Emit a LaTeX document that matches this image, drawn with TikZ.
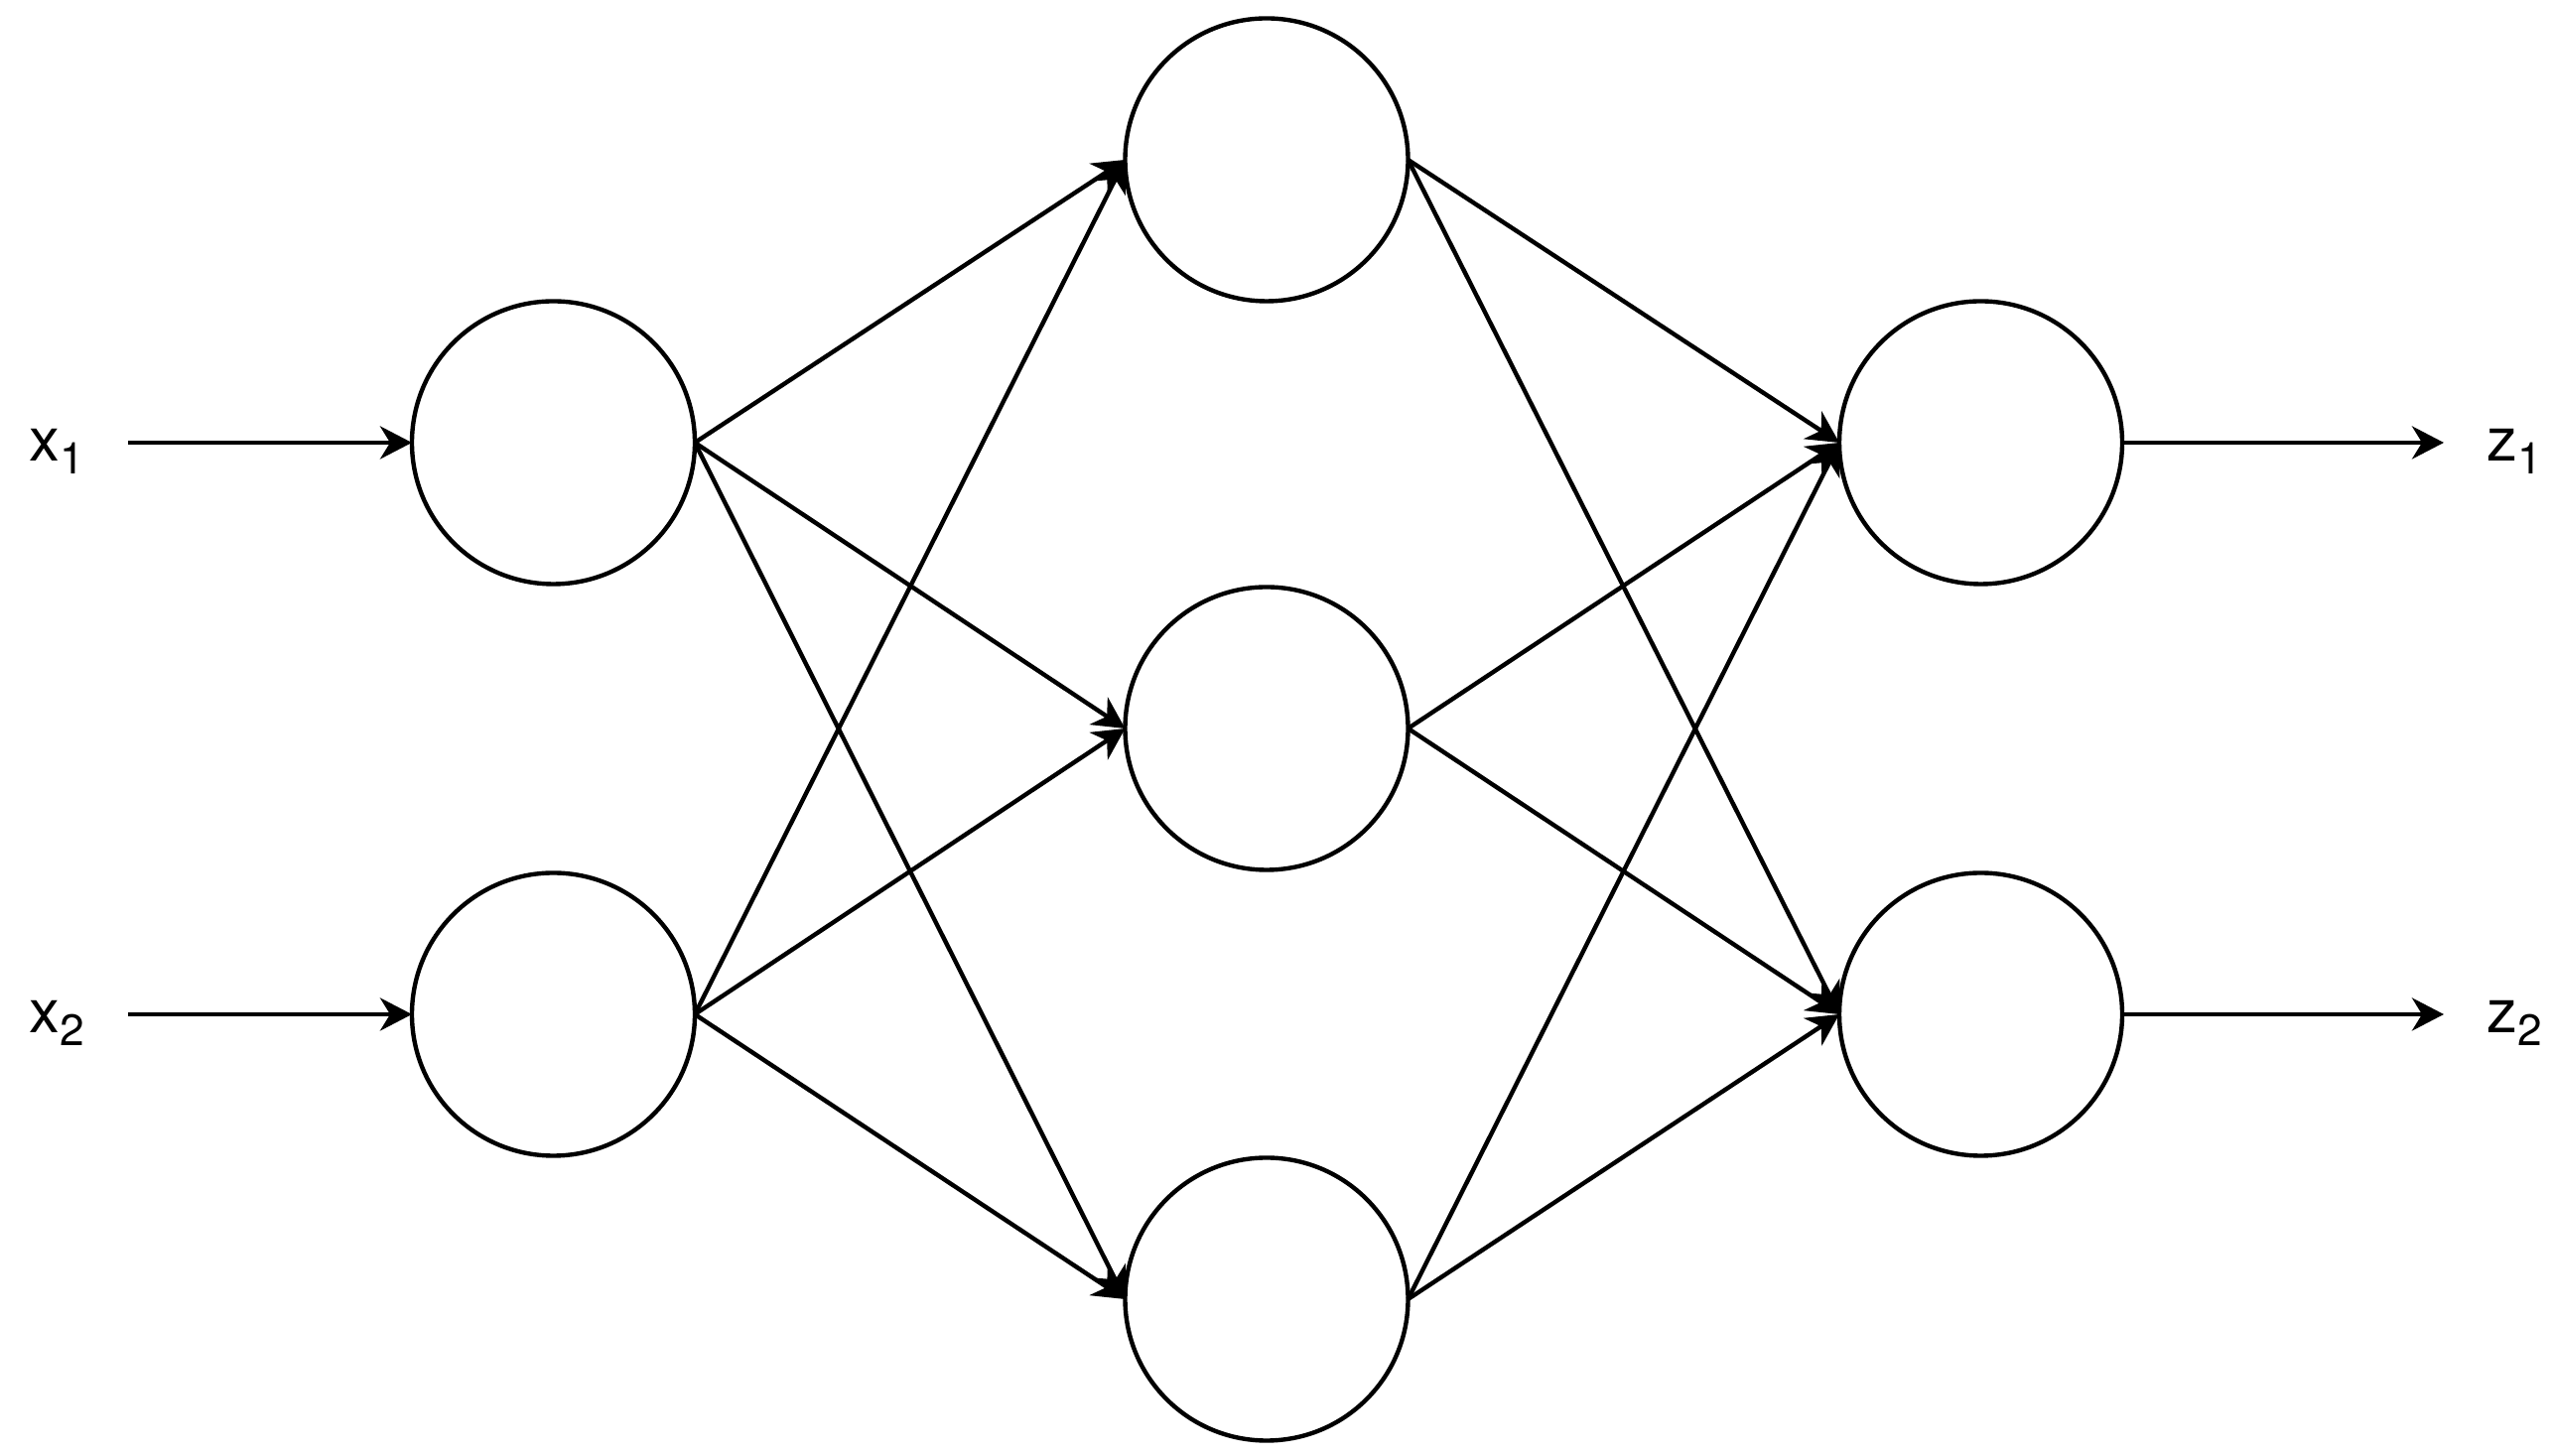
\documentclass[tikz,border=0pt]{standalone}
\usepackage{fontspec}
\setmainfont{TeX Gyre Heros}
\usetikzlibrary{arrows.meta,positioning}
\newcommand{\lsub}[1]{\raisebox{-3.7pt}{\fontsize{12.6pt}{14pt}\selectfont #1}}
\tikzset{
  neuron/.style={draw=black, circle, minimum size=28.5mm, inner sep=0pt, outer sep=0pt, line width=1.25pt},
  arrow/.style={-{Stealth[length=3.2mm, width=3.3mm, inset=1mm]}, line width=1.25pt, draw=black},
  varlabel/.style={font=\fontsize{17.5pt}{20pt}\selectfont, anchor=base west, inner sep=0pt}
}

\begin{document}
\begin{tikzpicture}
  \useasboundingbox (0,0) rectangle (25.72,14.67);

  % input layer
  \node[neuron] (i1) at (5.575,10.21) {};
  \node[neuron] (i2) at (5.575,4.45) {};
  % hidden layer
  \node[neuron] (h1) at (12.76,13.06) {};
  \node[neuron] (h2) at (12.76,7.33) {};
  \node[neuron] (h3) at (12.76,1.58) {};
  % output layer
  \node[neuron] (o1) at (19.955,10.21) {};
  \node[neuron] (o2) at (19.955,4.45) {};

  \node[varlabel] (x1) at (0.29,10.02) {x\lsub{1}};
  \node[varlabel] (x2) at (0.29,4.26) {x\lsub{2}};
  \node[varlabel] (z1) at (25.05,10.02) {z\lsub{1}};
  \node[varlabel] (z2) at (25.05,4.26) {z\lsub{2}};

  \coordinate (in1) at (1.29,10.21);
  \coordinate (in2) at (1.29,4.45);
  \coordinate (out1) at (24.62,10.21);
  \coordinate (out2) at (24.62,4.45);

  \draw[arrow] (in1) -- (i1.west);
  \draw[arrow] (in2) -- (i2.west);

  \draw[arrow] (i1.east) -- (h1.west);
  \draw[arrow] (i1.east) -- (h2.west);
  \draw[arrow] (i1.east) -- (h3.west);
  \draw[arrow] (i2.east) -- (h1.west);
  \draw[arrow] (i2.east) -- (h2.west);
  \draw[arrow] (i2.east) -- (h3.west);

  \draw[arrow] (h1.east) -- (o1.west);
  \draw[arrow] (h1.east) -- (o2.west);
  \draw[arrow] (h2.east) -- (o1.west);
  \draw[arrow] (h2.east) -- (o2.west);
  \draw[arrow] (h3.east) -- (o1.west);
  \draw[arrow] (h3.east) -- (o2.west);

  \draw[arrow] (o1.east) -- (out1);
  \draw[arrow] (o2.east) -- (out2);
\end{tikzpicture}
\end{document}
